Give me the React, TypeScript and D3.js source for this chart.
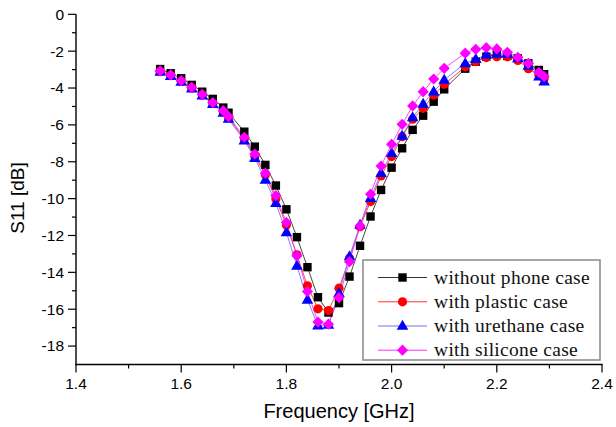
import React from 'react';
import * as d3 from 'd3';

// frequencies in GHz (sampling is a bit uneven in the source)
const freq = [1.56, 1.58, 1.60, 1.62, 1.64, 1.66, 1.68, 1.69, 1.72, 1.74, 1.76, 1.78, 1.80, 1.82, 1.84, 1.86, 1.88, 1.90, 1.92, 1.94, 1.96, 1.98, 2.00, 2.02, 2.04, 2.06, 2.08, 2.10, 2.14, 2.16, 2.18, 2.20, 2.22, 2.24, 2.26, 2.28, 2.29];

const noCase = [-2.97, -3.2, -3.47, -3.83, -4.2, -4.59, -5.06, -5.34, -6.37, -7.18, -8.17, -9.29, -10.58, -12.09, -13.72, -15.35, -16.18, -15.67, -14.23, -12.56, -10.97, -9.53, -8.32, -7.27, -6.27, -5.5, -4.74, -4.07, -2.95, -2.57, -2.3, -2.17, -2.26, -2.39, -2.66, -3.02, -3.25];
const plastic = [-3.1, -3.32, -3.64, -4.0, -4.38, -4.84, -5.3, -5.62, -6.75, -7.7, -8.71, -10.02, -11.43, -13.05, -14.73, -15.98, -16.07, -14.86, -13.23, -11.52, -10.16, -8.77, -7.72, -6.64, -5.69, -5.1, -4.38, -3.8, -2.85, -2.57, -2.35, -2.3, -2.3, -2.5, -2.95, -3.3, -3.5];
const urethane = [-3.12, -3.35, -3.67, -4.04, -4.42, -4.88, -5.35, -5.68, -6.85, -7.8, -8.99, -10.25, -11.84, -13.65, -15.49, -16.89, -16.85, -15.13, -13.14, -11.43, -9.98, -8.62, -7.54, -6.6, -5.59, -4.86, -4.2, -3.56, -2.66, -2.44, -2.21, -2.15, -2.15, -2.39, -2.8, -3.38, -3.65];
const silicone = [-3.07, -3.29, -3.6, -3.96, -4.34, -4.79, -5.23, -5.55, -6.67, -7.58, -8.62, -9.84, -11.3, -13.1, -15.04, -16.7, -16.81, -15.37, -13.42, -11.48, -9.76, -8.23, -7.05, -5.97, -4.97, -4.2, -3.51, -2.93, -2.11, -1.9, -1.81, -1.88, -2.06, -2.33, -2.66, -3.15, -3.38];

const seriesNames = ['without phone case', 'with plastic case', 'with urethane case', 'with silicone case'];
const seriesValues = [noCase, plastic, urethane, silicone];

const xTicks = [1.4, 1.6, 1.8, 2.0, 2.2, 2.4];
const yTicks = [0, -2, -4, -6, -8, -10, -12, -14, -16, -18];

const lineColors = ['#333333', '#ff3030', '#7070ff', '#ff30ff'];
const markColors = ['#000000', '#ff0000', '#0000ff', '#ff00ff'];

const W = 616;
const H = 427;

function marker(i: number, cx: number, cy: number, key: string) {
  const fill = markColors[i];
  if (i === 0) return <rect key={key} x={cx - 4.2} y={cy - 4.2} width={8.4} height={8.4} fill={fill} />;
  if (i === 1) return <circle key={key} cx={cx} cy={cy} r={4.6} fill={fill} />;
  if (i === 2) {
    const p = d3.symbol().type(d3.symbolTriangle).size(58)();
    return <path key={key} d={p || ''} transform={`translate(${cx},${cy + 0.5})`} fill={fill} />;
  }
  const r = 5.6;
  return <path key={key} d={`M${cx},${cy - r}L${cx + r},${cy}L${cx},${cy + r}L${cx - r},${cy}Z`} fill={fill} />;
}

export default function App() {
  const x = d3.scaleLinear().domain([1.4, 2.4]).range([76, 602]);
  const y = d3.scaleLinear().domain([-19, 0]).range([364.5, 14.3]);
  const line = d3.line<number>().x((_, i) => x(freq[i])).y(d => y(d));

  const xMinor = d3.range(1.5, 2.4, 0.2);
  const yMinor = d3.range(-1, -19, -2);
  const axisY = y(-19);
  const axisX = x(1.4);

  const legX = 363, legY = 260, legW = 237, legH = 100;
  const rowY = [277.5, 301.8, 326, 350.2];

  return (
    <svg width={W} height={H} style={{ position: 'absolute', left: 0, top: 0, background: '#fff' }}>
      <rect width={W} height={H} fill="#fff" />
      {/* series */}
      {seriesValues.map((vals, i) => (
        <path key={'l' + i} d={line(vals) || ''} fill="none" stroke={lineColors[i]} strokeWidth={0.9} />
      ))}
      {seriesValues.map((vals, i) => vals.map((v, j) => marker(i, x(freq[j]), y(v), `m${i}-${j}`)))}

      {/* axes */}
      <g fontFamily="'Liberation Sans', Arial, sans-serif" fontSize={15.5} fill="#000">
        <line x1={axisX} x2={axisX} y1={y(0)} y2={axisY + 0.7} stroke="#000" strokeWidth={1.4} />
        <line x1={axisX - 0.7} x2={x(2.4) + 0.7} y1={axisY} y2={axisY} stroke="#000" strokeWidth={1.4} />
        {yTicks.map(t => (
          <g key={'yt' + t}>
            <line x1={axisX - 8} x2={axisX} y1={y(t)} y2={y(t)} stroke="#000" strokeWidth={1.2} />
            <text x={axisX - 12} y={y(t)} dy="0.35em" textAnchor="end">{t}</text>
          </g>
        ))}
        {yMinor.map(t => (
          <line key={'ym' + t} x1={axisX - 4} x2={axisX} y1={y(t)} y2={y(t)} stroke="#000" strokeWidth={1.2} />
        ))}
        {xTicks.map(t => (
          <g key={'xt' + t}>
            <line x1={x(t)} x2={x(t)} y1={axisY} y2={axisY + 8} stroke="#000" strokeWidth={1.2} />
            <text x={x(t)} y={389} textAnchor="middle">{t.toFixed(1)}</text>
          </g>
        ))}
        {xMinor.map(t => (
          <line key={'xm' + t} x1={x(t)} x2={x(t)} y1={axisY} y2={axisY + 4} stroke="#000" strokeWidth={1.2} />
        ))}
        <text x={339} y={418} textAnchor="middle" fontSize={20}>Frequency [GHz]</text>
        <text transform="translate(24,198) rotate(-90)" textAnchor="middle" fontSize={19}>S11 [dB]</text>
      </g>

      {/* legend */}
      <rect x={legX} y={legY} width={legW} height={legH} fill="#fff" stroke="#888" strokeWidth={1.5} />
      {seriesNames.map((name, i) => (
        <g key={'lg' + i}>
          <line x1={378} x2={427} y1={rowY[i]} y2={rowY[i]} stroke={lineColors[i]} strokeWidth={1} />
          {marker(i, 402.5, rowY[i], 'lm' + i)}
          <text x={434} y={rowY[i]} dy="0.32em" fontFamily="'Liberation Serif', 'Times New Roman', serif" fontSize={19.5} letterSpacing={0.3} fill="#111">{name}</text>
        </g>
      ))}
    </svg>
  );
}
